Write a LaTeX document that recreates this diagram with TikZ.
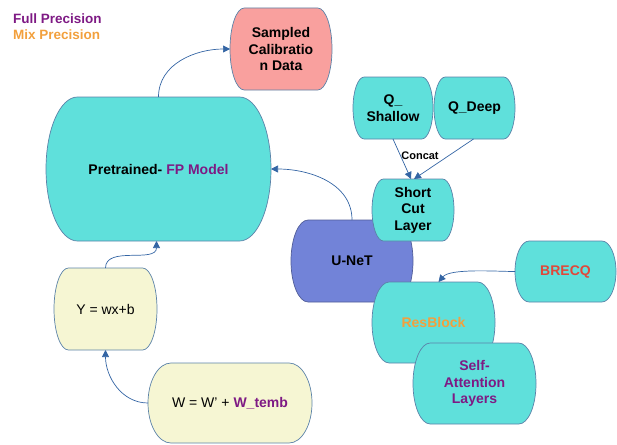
\documentclass[tikz,border=0pt]{standalone}
\usepackage{fontspec}
\setmainfont{Liberation Sans}
\usetikzlibrary{arrows.meta}

% A box with straight top and bottom edges and outward-bowed elliptic sides
\makeatletter
\def\bowfrac{0.14}
\pgfdeclareshape{bowbox}{%
  \inheritsavedanchors[from=rectangle]%
  \inheritanchorborder[from=rectangle]%
  \inheritanchor[from=rectangle]{center}%
  \inheritanchor[from=rectangle]{north}%
  \inheritanchor[from=rectangle]{south}%
  \inheritanchor[from=rectangle]{east}%
  \inheritanchor[from=rectangle]{west}%
  \inheritanchor[from=rectangle]{north east}%
  \inheritanchor[from=rectangle]{north west}%
  \inheritanchor[from=rectangle]{south east}%
  \inheritanchor[from=rectangle]{south west}%
  \inheritanchor[from=rectangle]{base}%
  \inheritanchor[from=rectangle]{mid}%
  \backgroundpath{%
    \southwest \pgf@xa=\pgf@x \pgf@ya=\pgf@y
    \northeast \pgf@xb=\pgf@x \pgf@yb=\pgf@y
    \pgf@xc=\pgf@xb \advance\pgf@xc by -\pgf@xa
    \pgf@xc=\bowfrac\pgf@xc
    \pgf@yc=\pgf@yb \advance\pgf@yc by -\pgf@ya
    \pgf@yc=0.5\pgf@yc
    \edef\bow@a{\the\pgf@xc}\edef\bow@b{\the\pgf@yc}%
    \edef\bow@xa{\the\pgf@xa}\edef\bow@xb{\the\pgf@xb}%
    \edef\bow@ya{\the\pgf@ya}\edef\bow@yb{\the\pgf@yb}%
    \pgfpathmoveto{\pgfpoint{\bow@xa+\bow@a}{\bow@yb}}%
    \pgfpathlineto{\pgfpoint{\bow@xb-\bow@a}{\bow@yb}}%
    \pgfpatharc{90}{-90}{\bow@a and \bow@b}%
    \pgfpathlineto{\pgfpoint{\bow@xa+\bow@a}{\bow@ya}}%
    \pgfpatharc{270}{90}{\bow@a and \bow@b}%
    \pgfpathclose
  }%
}
\makeatother

\definecolor{cyanfill}{HTML}{5FE0DB}
\definecolor{bluefill}{HTML}{7283D8}
\definecolor{pinkfill}{HTML}{F9A09E}
\definecolor{creamfill}{HTML}{F6F6D3}
\definecolor{edge}{HTML}{5B82A8}
\definecolor{arrowblue}{HTML}{3465A4}
\definecolor{fullp}{HTML}{7E1A84}
\definecolor{mixp}{HTML}{F2A03D}
\definecolor{brecqred}{HTML}{E0483A}

\begin{document}
\begin{tikzpicture}[x=1pt,y=-1pt,
  blk/.style={shape=bowbox, draw=edge, line width=0.7pt, inner sep=0pt, outer sep=0pt,
    align=center, font=\bfseries\fontsize{14}{16.5}\selectfont},
  cyanblk/.style={blk, fill=cyanfill},
  legend/.style={anchor=west, inner sep=0pt, font=\bfseries\fontsize{13.5}{16}\selectfont},
  link/.style={draw=arrowblue, line width=0.7pt, -{Triangle[width=7pt,length=7pt]}}]
\useasboundingbox (0,0) rectangle (617,444);

% legend
\node[legend, text=fullp] (lfull) at (13,19) {Full Precision};
\node[legend, text=mixp] (lmix) at (13,35) {Mix Precision};

% blocks
\node[blk, fill=pinkfill, minimum width=102pt, minimum height=82pt] (cal) at (281,49) {Sampled\\Calibratio\\n Data};
\node[cyanblk, minimum width=225pt, minimum height=144pt] (pre) at (158.5,169) {Pretrained- \textcolor{fullp}{FP Model}};
\node[blk, fill=bluefill, draw=bluefill!70!black, minimum width=122pt, minimum height=82pt] (unet) at (352,261) {U-NeT};
\node[cyanblk, minimum width=82pt, minimum height=62pt] (sc) at (413,210) {Short\\Cut\\Layer};
\node[cyanblk, minimum width=80pt, minimum height=62pt] (qs) at (393,108) {Q\_\\Shallow};
\node[cyanblk, minimum width=81pt, minimum height=62pt] (qd) at (474.5,108) {Q\_Deep};
\node[cyanblk, minimum width=101pt, minimum height=61pt, text=brecqred] (brecq) at (565.5,271.5) {BRECQ};
\node[cyanblk, minimum width=123pt, minimum height=81pt, text=mixp] (rb) at (433.5,322.5) {ResBlock};
\node[cyanblk, minimum width=123pt, minimum height=81pt, text=fullp] (sa) at (474.5,383.5) {Self-\\Attention\\Layers};
\node[blk, fill=creamfill, font=\fontsize{14}{16.5}\selectfont, minimum width=103pt, minimum height=82pt] (yb) at (105.5,309) {Y = wx+b};
\node[blk, fill=creamfill, font=\fontsize{14}{16.5}\selectfont, minimum width=164pt, minimum height=80pt] (wb) at (230,403) {W = W' + \textcolor{fullp}{\bfseries W\_temb}};

% connectors
\draw[link] (pre.north) to[out=90, in=180] (cal.west);
\draw[link] (unet.north) to[out=90, in=0] (pre.east);
\draw[link] (yb.north) to[out=90, in=-90] ([xshift=-2pt]pre.south);
\draw[link] (wb.west) to[out=180, in=-90] (yb.south);
\draw[link] (brecq.west) to[out=180, in=50, looseness=0.6] ([xshift=5pt]rb.north);
\draw[link] (qs.south) -- ([xshift=-2pt]sc.north);
\draw[link] ([xshift=-1pt]qd.south) -- ([xshift=1pt]sc.north);
\node[font=\bfseries\fontsize{11}{13}\selectfont, inner sep=0pt] (concat) at (420,156) {Concat};
\end{tikzpicture}
\end{document}
